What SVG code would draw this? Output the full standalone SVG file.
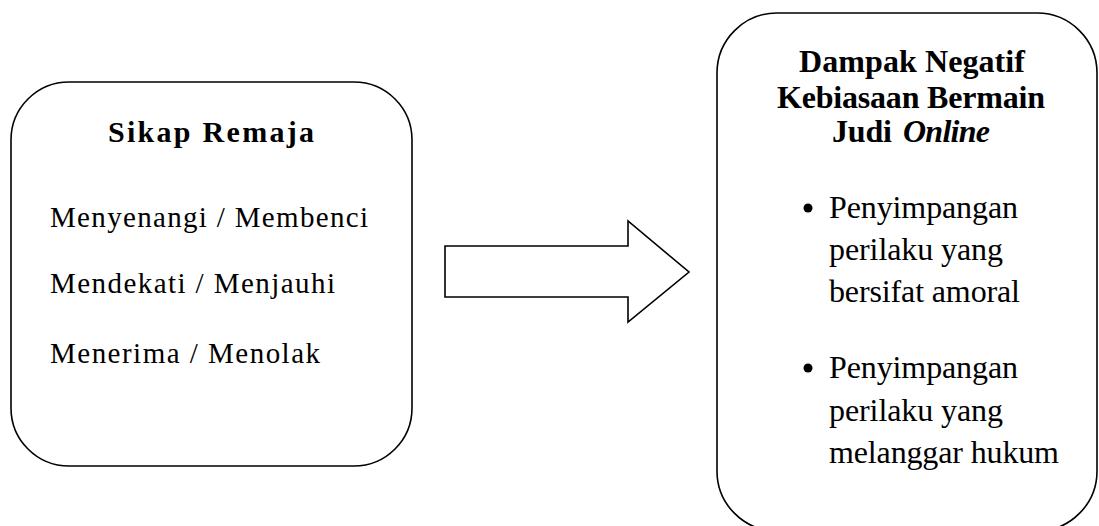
<svg xmlns="http://www.w3.org/2000/svg" width="1099" height="526" viewBox="0 0 1099 526">
<style>
.box{fill:#fff;stroke:#000;stroke-width:1.6}
.arrow{fill:#fff;stroke:#000;stroke-width:1.6;stroke-linejoin:miter}
.t{font-family:"Liberation Serif","Times New Roman",serif;fill:#000}
.lt{font-size:30px;font-weight:bold}
.lb{font-size:29px}
.rt{font-size:32px;font-weight:bold}
.rb{font-size:32px}
</style>
<rect width="1099" height="526" fill="#fff"/>
<g id="node-sikap">
<rect class="box" x="11" y="82" width="401" height="384" rx="58" ry="58"/>
<text class="t lt" x="108" y="142" textLength="206" lengthAdjust="spacing">Sikap Remaja</text>
<text class="t lb" x="50" y="227" textLength="318" lengthAdjust="spacing">Menyenangi / Membenci</text>
<text class="t lb" x="50" y="293" textLength="285" lengthAdjust="spacing">Mendekati / Menjauhi</text>
<text class="t lb" x="50" y="363" textLength="270" lengthAdjust="spacing">Menerima / Menolak</text>
</g>
<g id="connectors">
<polygon class="arrow" points="445,246 628,246 628,221 689,272 628,322 628,297 445,297"/>
</g>
<g id="node-dampak">
<rect class="box" x="717" y="13" width="380" height="518" rx="60" ry="60"/>
<text class="t rt" x="799" y="72" textLength="226" lengthAdjust="spacing">Dampak Negatif</text>
<text class="t rt" x="777" y="108" textLength="268" lengthAdjust="spacing">Kebiasaan Bermain</text>
<text class="t rt" x="832" y="142" textLength="60" lengthAdjust="spacing">Judi</text>
<text class="t rt" x="903" y="142" font-style="italic" textLength="87" lengthAdjust="spacing">Online</text>
<circle cx="808" cy="208" r="4.5" fill="#000"/>
<text class="t rb" x="829" y="218" textLength="189" lengthAdjust="spacing">Penyimpangan</text>
<text class="t rb" x="829" y="260" textLength="174" lengthAdjust="spacing">perilaku yang</text>
<text class="t rb" x="829" y="302" textLength="191" lengthAdjust="spacing">bersifat amoral</text>
<circle cx="808" cy="368" r="4.5" fill="#000"/>
<text class="t rb" x="829" y="378" textLength="189" lengthAdjust="spacing">Penyimpangan</text>
<text class="t rb" x="829" y="421" textLength="174" lengthAdjust="spacing">perilaku yang</text>
<text class="t rb" x="829" y="463" textLength="230" lengthAdjust="spacing">melanggar hukum</text>
</g>
</svg>
